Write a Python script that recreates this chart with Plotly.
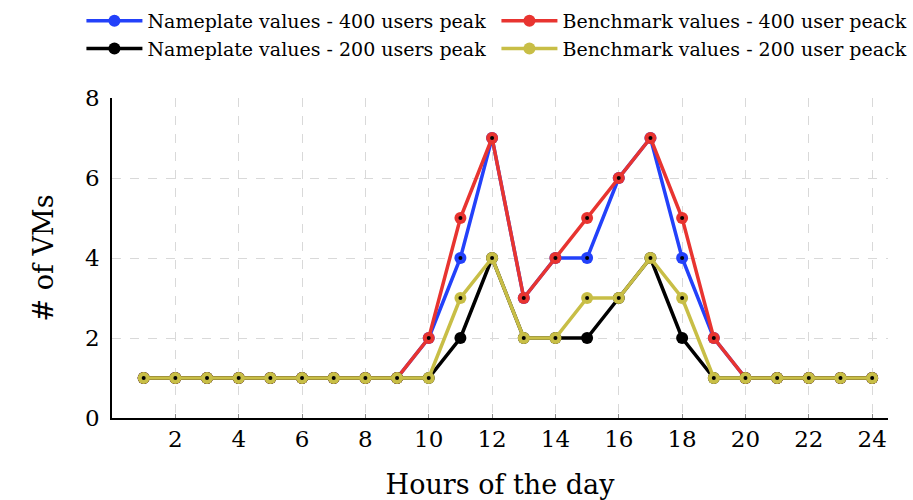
import plotly.graph_objects as go

hours = list(range(1, 25))
nameplate_400 = [1, 1, 1, 1, 1, 1, 1, 1, 1, 2, 4, 7, 3, 4, 4, 6, 7, 4, 2, 1, 1, 1, 1, 1]
benchmark_400 = [1, 1, 1, 1, 1, 1, 1, 1, 1, 2, 5, 7, 3, 4, 5, 6, 7, 5, 2, 1, 1, 1, 1, 1]
nameplate_200 = [1, 1, 1, 1, 1, 1, 1, 1, 1, 1, 2, 4, 2, 2, 2, 3, 4, 2, 1, 1, 1, 1, 1, 1]
benchmark_200 = [1, 1, 1, 1, 1, 1, 1, 1, 1, 1, 3, 4, 2, 2, 3, 3, 4, 3, 1, 1, 1, 1, 1, 1]

series = [
    ("Nameplate values - 400 users peak", nameplate_400, "rgb(35,65,250)", True, "legend"),
    ("Benchmark values - 400 user peack", benchmark_400, "rgb(232,52,48)", True, "legend2"),
    ("Nameplate values - 200 users peak", nameplate_200, "rgb(0,0,0)", False, "legend"),
    ("Benchmark values - 200 user peack", benchmark_200, "rgb(200,190,70)", True, "legend2"),
]

FONT = "DejaVu Serif"
fig = go.Figure()
for name, vals, color, dot, leg in series:
    fig.add_trace(go.Scatter(
        x=hours, y=vals, name=name, mode="lines+markers", legend=leg,
        line=dict(color=color, width=3.5),
        marker=dict(color=color, size=12, line=dict(color=color, width=0)),
    ))
    if dot:
        fig.add_trace(go.Scatter(
            x=hours, y=vals, mode="markers", showlegend=False, hoverinfo="skip",
            marker=dict(color="black", size=4), legend=leg,
        ))

legend_common = dict(
    orientation="v", xref="paper", yref="paper",
    y=1.30, xanchor="left", yanchor="top",
    font=dict(family=FONT, size=19), tracegroupgap=0, itemwidth=56,
    bgcolor="rgba(0,0,0,0)",
)

fig.update_layout(
    width=913, height=500,
    margin=dict(l=112, r=25, t=98, b=82, autoexpand=False),
    paper_bgcolor="white", plot_bgcolor="white",
    font=dict(family=FONT, color="black"),
    showlegend=True,
    legend=dict(x=-0.0394, **legend_common),
    legend2=dict(x=0.4954, **legend_common),
    xaxis=dict(
        range=[0, 24.5], tickvals=list(range(2, 25, 2)),
        showgrid=True, gridcolor="#d9d9d9", griddash="dash", gridwidth=1,
        showline=True, linecolor="black", linewidth=1.5,
        ticks="inside", ticklen=4, tickcolor="#888",
        tickfont=dict(family=FONT, size=23),
        title=dict(text="Hours of the day", font=dict(family=FONT, size=27), standoff=24),
        zeroline=False,
    ),
    yaxis=dict(
        range=[0, 8], tickvals=[0, 2, 4, 6, 8],
        showgrid=True, gridcolor="#d9d9d9", griddash="dash", gridwidth=1,
        showline=True, linecolor="black", linewidth=1.5,
        ticks="", ticklabelstandoff=6,
        tickfont=dict(family=FONT, size=23),
        title=dict(text="# of VMs", font=dict(family=FONT, size=27), standoff=24),
        zeroline=False,
    ),
)

fig.write_html("out.html")
